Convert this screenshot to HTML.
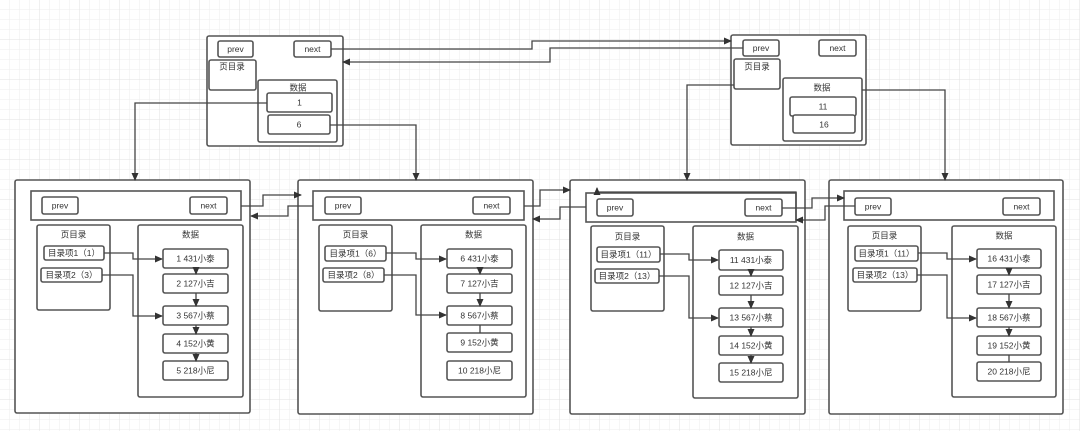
<!DOCTYPE html>
<html><head><meta charset="utf-8"><style>
html,body{margin:0;padding:0;background:#fff}
svg{display:block}
text{font-family:"Liberation Sans","Noto Sans CJK SC",sans-serif;font-size:8.5px;fill:#333;text-anchor:middle;dominant-baseline:middle}
.b{fill:#fff;stroke:#555;stroke-width:1.6}
.l{fill:none;stroke:#444;stroke-width:1.3}
</style></head><body>
<svg width="1080" height="431" viewBox="0 0 1080 431" xmlns="http://www.w3.org/2000/svg">
<defs>
<pattern id="g" width="10" height="10" patternUnits="userSpaceOnUse"><path d="M10 0V10M0 10H10" stroke="#eeeeee" stroke-width="1" fill="none"/></pattern>
<pattern id="G" width="40" height="40" patternUnits="userSpaceOnUse"><rect width="40" height="40" fill="url(#g)"/><path d="M40 0V40M0 40H40" stroke="#e2e2e2" stroke-width="1" fill="none"/></pattern>
<marker id="a" markerWidth="8" markerHeight="8" refX="7" refY="4" orient="auto" markerUnits="userSpaceOnUse"><path d="M0,0.5 L8,4 L0,7.5z" fill="#333"/></marker>
</defs>
<rect width="1080" height="431" fill="url(#G)"/>

<!-- top left node -->
<rect class="b" x="207" y="36" width="136" height="110" rx="2"/>
<rect class="b" x="218" y="41" width="35" height="16" rx="2"/><text x="235.5" y="49.5">prev</text>
<rect class="b" x="294" y="41" width="37" height="16" rx="2"/><text x="312.5" y="49.5">next</text>
<rect class="b" x="209" y="60" width="47" height="30" rx="2"/><text x="232" y="67">页目录</text>
<rect class="b" x="258" y="80" width="79" height="62" rx="2"/><text x="298" y="88">数据</text>
<rect class="b" x="267" y="93" width="65" height="19" rx="2"/><text x="299.5" y="103">1</text>
<rect class="b" x="268" y="115" width="62" height="19" rx="2"/><text x="299" y="125">6</text>

<!-- top right node -->
<rect class="b" x="731" y="35" width="135" height="110" rx="2"/>
<rect class="b" x="743" y="40" width="36" height="16" rx="2"/><text x="761" y="48.5">prev</text>
<rect class="b" x="819" y="40" width="37" height="16" rx="2"/><text x="837.5" y="48.5">next</text>
<rect class="b" x="734" y="59" width="46" height="30" rx="2"/><text x="757" y="67">页目录</text>
<rect class="b" x="783" y="78" width="79" height="63" rx="2"/><text x="822" y="88">数据</text>
<rect class="b" x="790" y="97" width="66" height="19" rx="2"/><text x="823" y="107">11</text>
<rect class="b" x="793" y="115" width="62" height="18" rx="2"/><text x="824" y="125">16</text>

<!-- page generator output inline -->
<!-- Page 1 -->
<rect class="b" x="15" y="180" width="235" height="233" rx="2"/>
<rect class="b" x="31" y="191" width="210" height="29"/>
<rect class="b" x="42" y="197" width="36" height="17" rx="2"/><text x="60" y="206">prev</text>
<rect class="b" x="190" y="197" width="37" height="17" rx="2"/><text x="208.5" y="206">next</text>
<rect class="b" x="37" y="225" width="73" height="85" rx="2"/><text x="73.5" y="235">页目录</text>
<rect class="b" x="138" y="225" width="105" height="172" rx="2"/><text x="190.5" y="235">数据</text>
<rect class="b" x="44" y="246" width="60" height="14" rx="2"/><text x="74" y="253.5">目录项1（1）</text>
<rect class="b" x="41" y="268" width="61" height="14" rx="2"/><text x="71.5" y="275.5">目录项2（3）</text>
<rect class="b" x="163" y="249" width="65" height="19" rx="2"/><text x="195.5" y="259">1 431小泰</text>
<rect class="b" x="163" y="274" width="65" height="19" rx="2"/><text x="195.5" y="284">2 127小吉</text>
<rect class="b" x="163" y="306" width="65" height="19" rx="2"/><text x="195.5" y="316">3 567小蔡</text>
<rect class="b" x="163" y="334" width="65" height="19" rx="2"/><text x="195.5" y="344">4 152小黄</text>
<rect class="b" x="163" y="361" width="65" height="19" rx="2"/><text x="195.5" y="371">5 218小尼</text>
<path class="l" d="M104 253H133V259H162" marker-end="url(#a)"/>
<path class="l" d="M102 275H133V316H162" marker-end="url(#a)"/>
<path class="l" d="M196 268V274" marker-end="url(#a)"/>
<path class="l" d="M196 293V306" marker-end="url(#a)"/>
<path class="l" d="M196 325V334" marker-end="url(#a)"/>
<path class="l" d="M196 353V361" marker-end="url(#a)"/>

<!-- Page 2 -->
<rect class="b" x="298" y="180" width="235" height="234" rx="2"/>
<rect class="b" x="313" y="191" width="211" height="29"/>
<rect class="b" x="325" y="197" width="36" height="17" rx="2"/><text x="343" y="206">prev</text>
<rect class="b" x="473" y="197" width="37" height="17" rx="2"/><text x="491.5" y="206">next</text>
<rect class="b" x="319" y="225" width="73" height="86" rx="2"/><text x="355.5" y="235">页目录</text>
<rect class="b" x="421" y="225" width="105" height="172" rx="2"/><text x="473.5" y="235">数据</text>
<rect class="b" x="325" y="246" width="61" height="15" rx="2"/><text x="355.5" y="254">目录项1（6）</text>
<rect class="b" x="323" y="268" width="61" height="14" rx="2"/><text x="353.5" y="275.5">目录项2（8）</text>
<rect class="b" x="447" y="249" width="65" height="19" rx="2"/><text x="479.5" y="259">6 431小泰</text>
<rect class="b" x="447" y="274" width="65" height="19" rx="2"/><text x="479.5" y="284">7 127小吉</text>
<rect class="b" x="447" y="306" width="65" height="19" rx="2"/><text x="479.5" y="316">8 567小蔡</text>
<rect class="b" x="447" y="333" width="65" height="19" rx="2"/><text x="479.5" y="343">9 152小黄</text>
<rect class="b" x="447" y="361" width="65" height="19" rx="2"/><text x="479.5" y="371">10 218小尼</text>
<path class="l" d="M386 253H416V259H446" marker-end="url(#a)"/>
<path class="l" d="M384 275H416V315H446" marker-end="url(#a)"/>
<path class="l" d="M480 268V274" marker-end="url(#a)"/>
<path class="l" d="M480 293V306" marker-end="url(#a)"/>
<path class="l" d="M480 325V333"/>

<!-- Page 3 -->
<rect class="b" x="570" y="180" width="235" height="234" rx="2"/>
<rect class="b" x="586" y="193" width="210" height="29"/>
<rect class="b" x="597" y="199" width="36" height="17" rx="2"/><text x="615" y="208">prev</text>
<rect class="b" x="745" y="199" width="37" height="17" rx="2"/><text x="763.5" y="208">next</text>
<rect class="b" x="591" y="226" width="73" height="85" rx="2"/><text x="627.5" y="237">页目录</text>
<rect class="b" x="693" y="226" width="105" height="172" rx="2"/><text x="745.5" y="237">数据</text>
<rect class="b" x="597" y="247" width="63" height="15" rx="2"/><text x="628.5" y="255">目录项1（11）</text>
<rect class="b" x="595" y="269" width="64" height="14" rx="2"/><text x="627" y="276.5">目录项2（13）</text>
<rect class="b" x="719" y="250" width="64" height="20" rx="2"/><text x="751" y="260.5">11 431小泰</text>
<rect class="b" x="719" y="276" width="64" height="19" rx="2"/><text x="751" y="286">12 127小吉</text>
<rect class="b" x="719" y="308" width="64" height="19" rx="2"/><text x="751" y="318">13 567小蔡</text>
<rect class="b" x="719" y="336" width="64" height="19" rx="2"/><text x="751" y="346">14 152小黄</text>
<rect class="b" x="719" y="363" width="64" height="19" rx="2"/><text x="751" y="373">15 218小尼</text>
<path class="l" d="M660 254H689V260H718" marker-end="url(#a)"/>
<path class="l" d="M659 276H689V318H718" marker-end="url(#a)"/>
<path class="l" d="M751 270V276" marker-end="url(#a)"/>
<path class="l" d="M751 295V308" marker-end="url(#a)"/>
<path class="l" d="M751 327V336" marker-end="url(#a)"/>
<path class="l" d="M751 355V363" marker-end="url(#a)"/>

<!-- Page 4 -->
<rect class="b" x="829" y="180" width="234" height="234" rx="2"/>
<rect class="b" x="844" y="191" width="210" height="29"/>
<rect class="b" x="855" y="198" width="36" height="17" rx="2"/><text x="873" y="207">prev</text>
<rect class="b" x="1003" y="198" width="37" height="17" rx="2"/><text x="1021.5" y="207">next</text>
<rect class="b" x="848" y="226" width="73" height="85" rx="2"/><text x="884.5" y="236">页目录</text>
<rect class="b" x="952" y="226" width="104" height="171" rx="2"/><text x="1004" y="236">数据</text>
<rect class="b" x="855" y="246" width="63" height="15" rx="2"/><text x="886.5" y="254">目录项1（11）</text>
<rect class="b" x="853" y="268" width="64" height="14" rx="2"/><text x="885" y="275.5">目录项2（13）</text>
<rect class="b" x="977" y="249" width="64" height="19" rx="2"/><text x="1009" y="259">16 431小泰</text>
<rect class="b" x="977" y="275" width="64" height="19" rx="2"/><text x="1009" y="285">17 127小吉</text>
<rect class="b" x="977" y="308" width="64" height="19" rx="2"/><text x="1009" y="318">18 567小蔡</text>
<rect class="b" x="977" y="336" width="64" height="19" rx="2"/><text x="1009" y="346">19 152小黄</text>
<rect class="b" x="977" y="362" width="64" height="19" rx="2"/><text x="1009" y="372">20 218小尼</text>
<path class="l" d="M918 253H947V259H976" marker-end="url(#a)"/>
<path class="l" d="M917 275H947V318H976" marker-end="url(#a)"/>
<path class="l" d="M1009 268V275" marker-end="url(#a)"/>
<path class="l" d="M1009 294V308" marker-end="url(#a)"/>
<path class="l" d="M1009 327V336" marker-end="url(#a)"/>
<path class="l" d="M1009 355V362"/>

<!-- top connectors -->
<path class="l" d="M267 103H135V180" marker-end="url(#a)"/>
<path class="l" d="M330 125H416V180" marker-end="url(#a)"/>
<path class="l" d="M331 49H532V41H731" marker-end="url(#a)"/>
<path class="l" d="M743 48H550V62H343" marker-end="url(#a)"/>
<path class="l" d="M734 85H687V180" marker-end="url(#a)"/>
<path class="l" d="M862 90H945V180" marker-end="url(#a)"/>

<!-- sibling links -->
<path class="l" d="M241 206H263V195H301" marker-end="url(#a)"/>
<path class="l" d="M313 206H288V216H251" marker-end="url(#a)"/>
<path class="l" d="M524 206H540V190H570" marker-end="url(#a)"/>
<path class="l" d="M586 207H560V219H533" marker-end="url(#a)"/>
<path class="l" d="M782 208H812V198H844" marker-end="url(#a)"/>
<path class="l" d="M855 206H825V220H796" marker-end="url(#a)"/>
<path class="l" d="M796 220V192H597V188" marker-end="url(#a)"/>
</svg>
</body></html>
